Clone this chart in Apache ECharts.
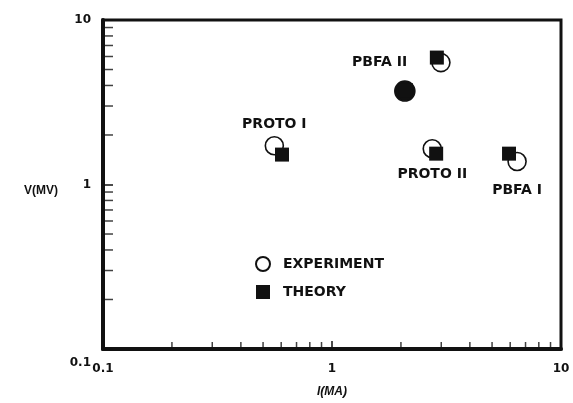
<!DOCTYPE html>
<html>
<head>
<meta charset="utf-8">
<script src="https://cdn.jsdelivr.net/npm/echarts@6/dist/echarts.min.js"></script>
<style>
html,body{margin:0;padding:0;background:#fff;}
#chart{width:573px;height:403px;}
</style>
</head>
<body>
<div id="chart"></div>
<script>
// ---- data ----
const machines = ['PROTO I', 'PBFA II', 'PBFA II (overlap)', 'PROTO II', 'PBFA I'];
const expCurrent = [0.56, 2.99, 2.08, 2.74, 6.43];   // I (MA)
const expVoltage = [1.72, 5.51, 3.70, 1.65, 1.38];   // V (MV)
const theoryCurrent = [0.605, 2.87, 2.10, 2.85, 5.93];
const theoryVoltage = [1.52, 5.91, 3.75, 1.54, 1.54];
const pointLabels = ['PROTO I', 'PBFA II', '', 'PROTO II', 'PBFA I'];
const xMinorTicks = [0.2, 0.3, 0.4, 0.5, 0.6, 0.7, 0.8, 0.9, 2, 3, 4, 5, 6, 7, 8, 9];
const yMinorTicks = [0.2, 0.3, 0.4, 0.5, 0.6, 0.7, 0.8, 0.9, 2, 3, 4, 5, 6, 7, 8, 9];
const axisMin = 0.1, axisMax = 10;
const legendNames = ['EXPERIMENT', 'THEORY'];

// ---- styles ----
const INK = '#111';
const labelFont = 'DejaVu Sans';
const labelStyle = {
  'PROTO I': {position: 'top', distance: 5},
  'PBFA II': {position: 'left', distance: 24},
  'PROTO II': {position: 'bottom', distance: 9},
  'PBFA I': {position: 'bottom', distance: 12}
};
const overlapIndex = 2; // where printed symbols merge into a solid blob

const expData = expCurrent.map((x, i) => {
  const lbl = pointLabels[i];
  const d = {name: machines[i], value: [x, expVoltage[i]]};
  if (lbl) {
    d.label = Object.assign({show: true, formatter: lbl}, labelStyle[lbl]);
  }
  if (i === overlapIndex) {
    d.itemStyle = {color: INK};
    d.symbolSize = 20;
  }
  return d;
});
const thData = theoryCurrent.map((x, i) => ({name: machines[i], value: [x, theoryVoltage[i]]}));

const chart = echarts.init(document.getElementById('chart'), null, {renderer: 'canvas'});
chart.setOption({
  backgroundColor: '#fff',
  animation: false,
  grid: {
    left: 103, right: 12, top: 20, bottom: 51,
    show: true, borderColor: INK, borderWidth: 3, backgroundColor: 'transparent'
  },
  legend: {
    data: legendNames,
    orient: 'vertical',
    left: 255, top: 256,
    padding: 0,
    itemWidth: 14, itemHeight: 14, itemGap: 13,
    selectedMode: false,
    textStyle: {fontFamily: labelFont, fontWeight: 'bold', fontSize: 14, color: INK, padding: [0, 0, 0, 8]}
  },
  xAxis: {
    type: 'log', logBase: 10, min: axisMin, max: axisMax,
    name: 'I(MA)', nameLocation: 'middle', nameGap: 37,
    nameTextStyle: {fontFamily: 'Liberation Sans', fontWeight: 'bold', fontSize: 12, color: INK, fontStyle: 'italic'},
    axisLine: {show: true, lineStyle: {color: INK, width: 4}},
    axisTick: {show: true, inside: true, length: 8, lineStyle: {color: INK, width: 1.5}},
    minorTick: {show: false},
    splitLine: {show: false},
    axisLabel: {margin: 14, fontFamily: labelFont, fontWeight: 'bold', fontSize: 12, color: INK,
      formatter: v => String(+v.toPrecision(3))}
  },
  yAxis: {
    type: 'log', logBase: 10, min: axisMin, max: axisMax,
    name: 'V(MV)', nameLocation: 'middle', nameGap: 45, nameRotate: 0,
    nameTextStyle: {fontFamily: 'Liberation Sans', fontWeight: 'bold', fontSize: 12, color: INK, verticalAlign: 'top'},
    axisLine: {show: true, lineStyle: {color: INK, width: 4}},
    axisTick: {show: true, inside: true, length: 10, lineStyle: {color: INK, width: 1.5}},
    minorTick: {show: false},
    splitLine: {show: false},
    axisLabel: {margin: 12, fontFamily: labelFont, fontWeight: 'bold', fontSize: 12, color: INK,
      formatter: v => Math.abs(v - 0.1) < 1e-9 ? '{lo|0.1}' : String(+v.toPrecision(3)),
      rich: {lo: {fontFamily: labelFont, fontWeight: 'bold', fontSize: 12, color: INK, padding: [28, 0, 0, 0]}}}
  },
  series: [
    {
      type: 'scatter', name: 'xminor', silent: true, clip: false, z: 1,
      symbol: 'rect', symbolSize: [1.5, 7], symbolOffset: [0, -3.5],
      itemStyle: {color: INK},
      data: xMinorTicks.map(v => [v, axisMin])
    },
    {
      type: 'scatter', name: 'yminor', silent: true, clip: false, z: 1,
      symbol: 'rect', symbolSize: [10, 1.5], symbolOffset: [5, 0],
      itemStyle: {color: INK},
      data: yMinorTicks.map(v => [axisMin, v])
    },
    {
      type: 'scatter', name: 'EXPERIMENT', z: 3,
      symbol: 'circle', symbolSize: 18,
      itemStyle: {color: '#fff', borderColor: INK, borderWidth: 1.6, opacity: 1},
      label: {show: false, color: INK, fontFamily: labelFont, fontWeight: 'bold', fontSize: 14},
      emphasis: {disabled: true},
      data: expData
    },
    {
      type: 'scatter', name: 'THEORY', z: 4,
      symbol: 'rect', symbolSize: 14,
      itemStyle: {color: INK, opacity: 1},
      emphasis: {disabled: true},
      data: thData
    }
  ]
});
</script>
</body>
</html>
